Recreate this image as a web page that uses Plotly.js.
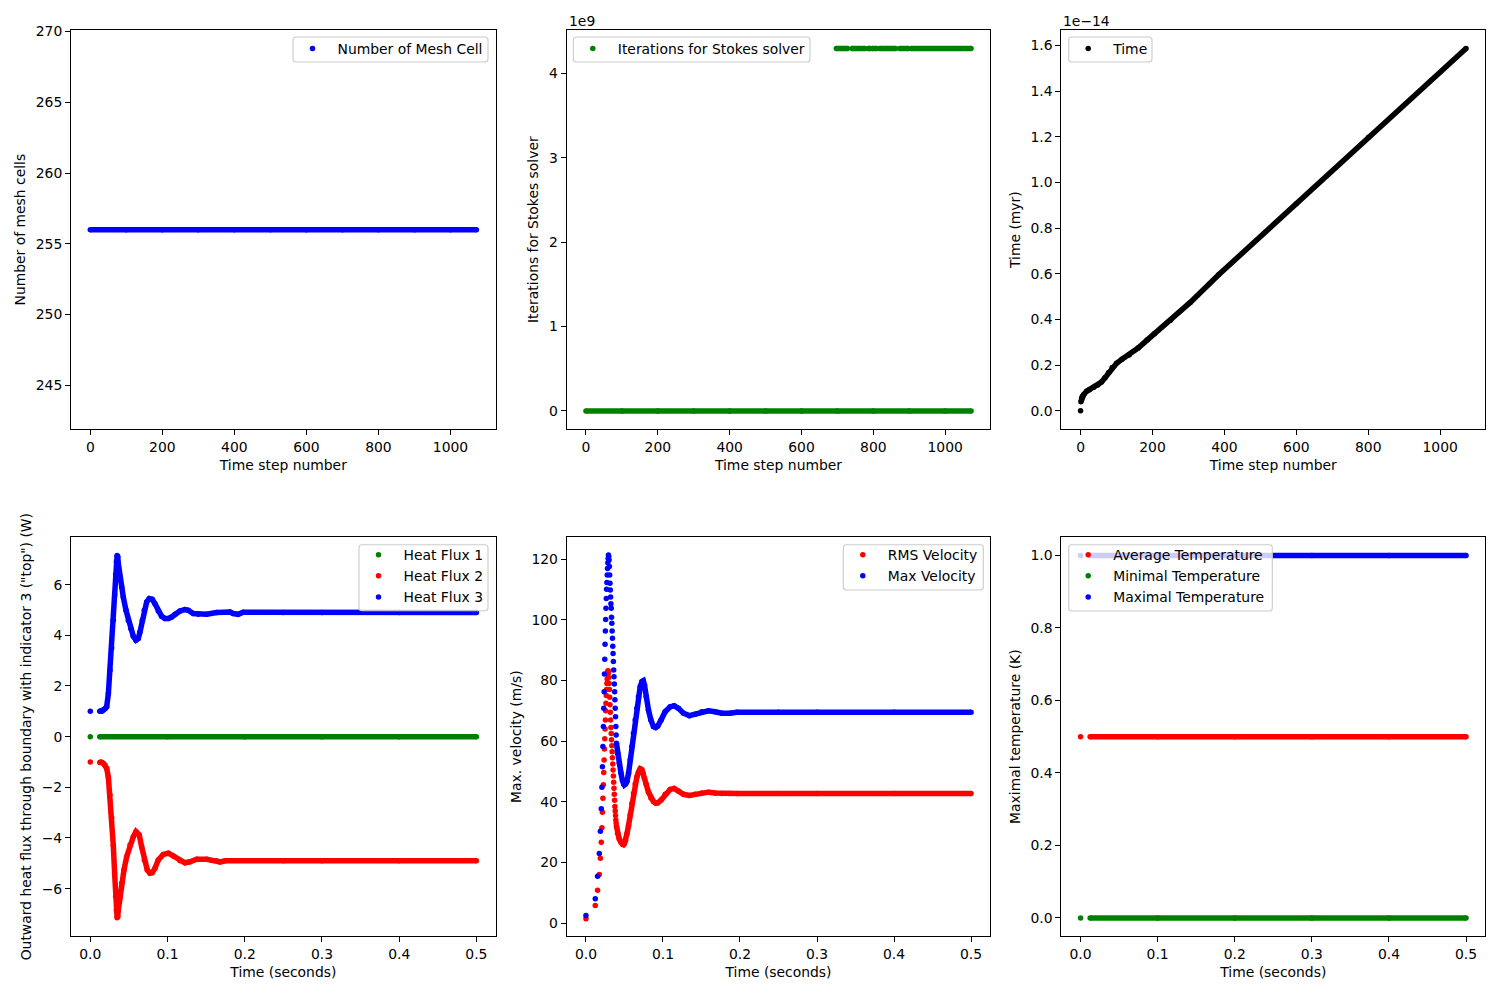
<!DOCTYPE html>
<html>
<head>
<meta charset="utf-8">
<script src="https://cdn.plot.ly/plotly-3.0.1.min.js"></script>
<style>html,body{margin:0;padding:0;background:#fff;}#chart{width:1500px;height:1000px;}</style>
</head>
<body>
<div id="chart"></div>
<script>
// ---------------- DATA ----------------
// Panel 1: number of mesh cells per time step
const meshSteps = [0, 100, 200, 300, 400, 500, 600, 700, 800, 900, 1000, 1072];
const meshCells = [256, 256, 256, 256, 256, 256, 256, 256, 256, 256, 256, 256];

// Panel 2: iterations for Stokes solver
const stokesSteps = [0, 100, 200, 300, 400, 500, 600, 700, 800, 900, 1000, 1072];
const stokesIter  = [0, 0, 0, 0, 0, 0, 0, 0, 0, 0, 0, 0];
// steps where the solver reported 4294967295 iterations (null = gap between runs)
const stokesFailSteps = [697, 712, 714, 716, 728, 730, 741, 750, 752, 755, 776, 778, 786, 792, 794, 797, 809, 812, 818, 830, 832, 835, 848, 850, 852, 862, 868, 874, 897, 901, 906, 1072];
const stokesFailIter  = [4294967295, 4294967295, null, 4294967295, 4294967295, null, 4294967295, 4294967295, null, 4294967295, 4294967295, null, 4294967295, 4294967295, null, 4294967295, 4294967295, null, 4294967295, 4294967295, null, 4294967295, 4294967295, null, 4294967295, 4294967295, null, 4294967295, 4294967295, null, 4294967295, 4294967295];

// Panel 3: model time (myr) per time step
const timeStepsFirst = [0];
const timeMyrFirst   = [0];
const timeSteps = [1, 3, 5, 9, 17, 25, 37, 48, 58, 68, 78, 88, 100, 115, 135, 160, 185, 205, 250, 305, 384, 600, 801, 1072];
const timeMyr   = [0.040e-14, 0.055e-14, 0.064e-14, 0.072e-14, 0.086e-14, 0.093e-14, 0.103e-14, 0.113e-14, 0.126e-14, 0.145e-14, 0.168e-14, 0.190e-14, 0.208e-14, 0.226e-14, 0.245e-14, 0.275e-14, 0.310e-14, 0.338e-14, 0.397e-14, 0.475e-14, 0.596e-14, 0.907e-14, 1.198e-14, 1.587e-14];

// Panel 4: heat flux through boundary (W)
const fluxTimeFirst = [0];
const flux1First = [0];
const flux2First = [-1];
const flux3First = [1];
const flux1Time = [0.0122, 0.1, 0.2, 0.3, 0.4, 0.5];
const flux1 = [0, 0, 0, 0, 0, 0];
const flux2Time = [0.0122, 0.0135, 0.015, 0.0168, 0.019, 0.0212, 0.0234, 0.0255, 0.0277, 0.0298, 0.0315, 0.0328, 0.0338, 0.0347, 0.0355, 0.0363, 0.0384, 0.0406, 0.0436, 0.0471, 0.0514, 0.0557, 0.0591, 0.0634, 0.0665, 0.0699, 0.0738, 0.0773, 0.0802, 0.0837, 0.088, 0.0945, 0.101, 0.1074, 0.1161, 0.1226, 0.129, 0.1377, 0.1506, 0.1636, 0.168, 0.175, 0.25, 0.3, 0.4, 0.5];
const flux2 = [-1.02, -1.0, -1.02, -1.05, -1.12, -1.25, -1.6, -2.3, -3.2, -4.3, -5.4, -6.3, -6.85, -7.15, -7.1, -6.84, -6.32, -5.79, -5.26, -4.74, -4.28, -3.95, -3.75, -3.88, -4.35, -4.87, -5.26, -5.39, -5.37, -5.2, -4.87, -4.65, -4.6, -4.71, -4.9, -4.98, -4.94, -4.84, -4.84, -4.9, -4.95, -4.9, -4.9, -4.9, -4.9, -4.9];
const flux3Time = [0.0122, 0.0135, 0.015, 0.0168, 0.019, 0.0212, 0.0234, 0.0255, 0.0277, 0.0298, 0.0315, 0.0328, 0.0338, 0.0347, 0.0355, 0.0363, 0.0384, 0.0406, 0.0427, 0.0462, 0.0492, 0.0523, 0.0557, 0.0591, 0.0621, 0.0643, 0.0673, 0.0699, 0.073, 0.0764, 0.0802, 0.0837, 0.088, 0.0924, 0.0967, 0.101, 0.1053, 0.1096, 0.1161, 0.1226, 0.1268, 0.1333, 0.1398, 0.1506, 0.1636, 0.1808, 0.1851, 0.1915, 0.198, 0.25, 0.3, 0.4, 0.5];
const flux3 = [1.0, 1.0, 1.0, 1.05, 1.1, 1.18, 1.7, 2.62, 3.5, 4.6, 5.6, 6.4, 6.9, 7.15, 7.1, 6.83, 6.3, 5.91, 5.51, 4.99, 4.59, 4.27, 3.96, 3.81, 3.87, 4.13, 4.59, 4.99, 5.32, 5.45, 5.42, 5.25, 4.96, 4.75, 4.66, 4.66, 4.72, 4.83, 4.96, 5.02, 4.99, 4.86, 4.83, 4.83, 4.9, 4.92, 4.86, 4.83, 4.91, 4.9, 4.9, 4.9, 4.9];

// Panel 5: velocities (m/s)
const velTimeEarly = [0, 0.0121, 0.0151, 0.0173, 0.0187, 0.0199, 0.0207, 0.0214, 0.022, 0.0226, 0.0231, 0.0236, 0.024, 0.0244, 0.0248, 0.0252, 0.0256, 0.026, 0.0264, 0.0268, 0.0272, 0.0276, 0.028, 0.0284, 0.0288, 0.0292, 0.0296, 0.03, 0.0304, 0.0308, 0.0312, 0.0316, 0.032, 0.0324, 0.0328, 0.0332, 0.0336, 0.034, 0.0344, 0.0348, 0.0352, 0.0356, 0.036, 0.0364, 0.0368, 0.0372, 0.0376, 0.038, 0.0384, 0.0388, 0.0392];
const rmsEarly = [1.5, 5.9, 10.9, 16.1, 21.4, 26.7, 31.5, 36.6, 41.2, 45.6, 49.7, 53.8, 57.4, 60.8, 64.0, 67.0, 70.0, 72.5, 75.0, 77.0, 79.0, 80.5, 82.0, 83.0, 83.2, 82.5, 81.0, 79.0, 77.0, 74.5, 72.0, 69.5, 67.0, 64.5, 62.5, 60.5, 58.5, 56.5, 54.5, 52.5, 50.5, 48.5, 46.5, 44.5, 42.5, 40.5, 38.5, 37.0, 35.5, 34.0, 33.0];
const maxEarly = [2.6, 8.1, 15.5, 23.0, 30.3, 37.7, 44.8, 51.6, 58.2, 64.8, 70.8, 76.3, 82.1, 87.0, 91.9, 96.3, 100.1, 103.8, 107.0, 110.0, 112.3, 114.7, 116.9, 118.8, 120.2, 121.3, 120.8, 119.7, 117.5, 114.7, 112.0, 109.8, 107.5, 105.3, 103.8, 100.8, 98.8, 96.3, 93.9, 91.3, 88.9, 86.2, 83.4, 81.2, 78.8, 76.3, 73.6, 70.8, 68.0, 64.8, 62.0];
const velTimeLate = [0.0396, 0.041, 0.0432, 0.0454, 0.0475, 0.049, 0.05, 0.0515, 0.0532, 0.0553, 0.0574, 0.0596, 0.0617, 0.0639, 0.0661, 0.0682, 0.0704, 0.0726, 0.0745, 0.076, 0.0782, 0.0812, 0.0843, 0.0877, 0.0905, 0.0933, 0.0976, 0.1028, 0.1093, 0.1145, 0.1201, 0.1266, 0.1343, 0.1417, 0.1504, 0.159, 0.1676, 0.1763, 0.1871, 0.1958, 0.25, 0.3, 0.4, 0.5];
const rmsLate = [32.0, 29.6, 27.8, 26.7, 26.0, 26.0, 26.3, 27.3, 29.5, 32.2, 35.8, 39.4, 42.8, 45.9, 48.2, 49.8, 50.9, 50.6, 49.3, 47.8, 45.8, 43.2, 41.3, 40.1, 39.6, 39.7, 40.6, 42.5, 44.1, 44.4, 43.6, 42.5, 42.1, 42.5, 42.9, 43.2, 42.9, 42.8, 42.8, 42.8, 42.8, 42.8, 42.8, 42.8];
const maxLate = [59.3, 56.0, 52.8, 49.6, 46.9, 45.8, 45.6, 45.9, 46.7, 49.4, 53.8, 58.2, 62.6, 67.0, 70.8, 74.6, 77.9, 79.6, 79.9, 78.5, 74.6, 70.2, 67.0, 64.8, 64.5, 65.0, 67.0, 69.7, 71.3, 71.7, 70.8, 69.2, 68.4, 68.9, 69.7, 70.0, 69.7, 69.2, 69.2, 69.5, 69.5, 69.5, 69.5, 69.5];

// Panel 6: temperatures (K)
const tempTimeFirst = [0];
const tempAvgFirst = [0.5];
const tempMinFirst = [0];
const tempMaxFirst = [1];
const tempTime = [0.0124, 0.1, 0.2, 0.3, 0.4, 0.5];
const tempAvg = [0.5, 0.5, 0.5, 0.5, 0.5, 0.5];
const tempMin = [0, 0, 0, 0, 0, 0];
const tempMax = [1, 1, 1, 1, 1, 1];

// ---------------- STYLE ----------------
const FONT = 'DejaVu Sans, sans-serif';
const FS = 13.9;
const MS = 5.5;
const BLUE = '#0000ff', RED = '#ff0000', GREEN = '#008000', BLACK = '#000000';

function dots(x, y, color, name, xa, ya, lg) {
  return {type: 'scatter', mode: 'markers', x: x, y: y, name: name, xaxis: xa, yaxis: ya,
    legend: lg, showlegend: true, legendgroup: name + xa,
    marker: {color: color, size: MS, line: {width: 0}}, hoverinfo: 'skip'};
}
function band(x, y, color, name, xa, ya, lg) {
  return {type: 'scatter', mode: 'lines', x: x, y: y, name: name, xaxis: xa, yaxis: ya,
    legend: lg, showlegend: false, legendgroup: name + xa, connectgaps: false,
    line: {color: color, width: MS}, hoverinfo: 'skip'};
}

const traces = [
  band(meshSteps, meshCells, BLUE, 'Number of Mesh Cell', 'x', 'y', 'legend'),
  dots(meshSteps, meshCells, BLUE, 'Number of Mesh Cell', 'x', 'y', 'legend'),

  band(stokesSteps, stokesIter, GREEN, 'Iterations for Stokes solver', 'x2', 'y2', 'legend2'),
  band(stokesFailSteps, stokesFailIter, GREEN, 'Iterations for Stokes solver', 'x2', 'y2', 'legend2'),
  dots(stokesSteps.concat(stokesFailSteps), stokesIter.concat(stokesFailIter), GREEN, 'Iterations for Stokes solver', 'x2', 'y2', 'legend2'),

  band(timeSteps, timeMyr, BLACK, 'Time', 'x3', 'y3', 'legend3'),
  dots(timeStepsFirst.concat(timeSteps), timeMyrFirst.concat(timeMyr), BLACK, 'Time', 'x3', 'y3', 'legend3'),

  band(flux1Time, flux1, GREEN, 'Heat Flux 1', 'x4', 'y4', 'legend4'),
  dots(fluxTimeFirst.concat(flux1Time), flux1First.concat(flux1), GREEN, 'Heat Flux 1', 'x4', 'y4', 'legend4'),
  band(flux2Time, flux2, RED, 'Heat Flux 2', 'x4', 'y4', 'legend4'),
  dots(fluxTimeFirst.concat(flux2Time), flux2First.concat(flux2), RED, 'Heat Flux 2', 'x4', 'y4', 'legend4'),
  band(flux3Time, flux3, BLUE, 'Heat Flux 3', 'x4', 'y4', 'legend4'),
  dots(fluxTimeFirst.concat(flux3Time), flux3First.concat(flux3), BLUE, 'Heat Flux 3', 'x4', 'y4', 'legend4'),

  band(velTimeLate, rmsLate, RED, 'RMS Velocity', 'x5', 'y5', 'legend5'),
  dots(velTimeEarly.concat(velTimeLate), rmsEarly.concat(rmsLate), RED, 'RMS Velocity', 'x5', 'y5', 'legend5'),
  band(velTimeLate, maxLate, BLUE, 'Max Velocity', 'x5', 'y5', 'legend5'),
  dots(velTimeEarly.concat(velTimeLate), maxEarly.concat(maxLate), BLUE, 'Max Velocity', 'x5', 'y5', 'legend5'),

  band(tempTime, tempAvg, RED, 'Average Temperature', 'x6', 'y6', 'legend6'),
  dots(tempTimeFirst.concat(tempTime), tempAvgFirst.concat(tempAvg), RED, 'Average Temperature', 'x6', 'y6', 'legend6'),
  band(tempTime, tempMin, GREEN, 'Minimal Temperature', 'x6', 'y6', 'legend6'),
  dots(tempTimeFirst.concat(tempTime), tempMinFirst.concat(tempMin), GREEN, 'Minimal Temperature', 'x6', 'y6', 'legend6'),
  band(tempTime, tempMax, BLUE, 'Maximal Temperature', 'x6', 'y6', 'legend6'),
  dots(tempTimeFirst.concat(tempTime), tempMaxFirst.concat(tempMax), BLUE, 'Maximal Temperature', 'x6', 'y6', 'legend6')
];

function axis(extra, letter) {
  const base = {showline: true, mirror: true, linecolor: 'black', linewidth: 1,
    ticks: 'outside', ticklen: 5, tickwidth: 1, tickcolor: 'black',
    showgrid: false, zeroline: false, automargin: false,
    tickfont: {family: FONT, size: FS, color: 'black'}};
  const out = Object.assign(base, extra);
  out.title = {text: extra.titleText, font: {family: FONT, size: FS, color: 'black'},
    standoff: letter === 'x' ? 6 : 6.5};
  delete out.titleText;
  return out;
}

const W = 1500, H = 1000;
const colX = [[71, 495.7], [566.7, 990.3], [1061.3, 1485.3]];
const rowY = [[30.3, 429], [537.3, 936]];
const dx = c => [colX[c][0] / W, colX[c][1] / W];
const dy = r => [1 - rowY[r][1] / H, 1 - rowY[r][0] / H];

const stepTicks = {range: [-53.6, 1125.6], tick0: 0, dtick: 200, titleText: 'Time step number'};
const secTicks = {range: [-0.025, 0.525], tick0: 0, dtick: 0.1, tickformat: '.1f', titleText: 'Time (seconds)'};

// legend frames (pixel boxes: left, top, right, bottom)
const legendBoxes = [[293, 37, 488, 62], [573.3, 37, 810, 62], [1068.7, 37, 1152, 62],
                     [359, 544.7, 488, 610.7], [843.3, 544.7, 983.3, 590], [1068.7, 544.7, 1272.3, 611]];
function legendFor(box, dyPx) {
  return {x: (box[0] - 5.5) / W, y: 1 - (box[1] - 4 - dyPx) / H, xanchor: 'left', yanchor: 'top', xref: 'paper', yref: 'paper',
    bgcolor: 'rgba(0,0,0,0)', borderwidth: 0, itemwidth: 40,
    font: {family: FONT, size: FS, color: 'black'}, tracegroupgap: 0, traceorder: 'normal'};
}
function roundBox(b) {
  const r = 3;
  const X = v => (v / W).toFixed(5), Y = v => (1 - v / H).toFixed(5);
  const [x0, y0, x1, y1] = b;
  const p = 'M' + X(x0 + r) + ',' + Y(y0) + ' L' + X(x1 - r) + ',' + Y(y0) +
    ' Q' + X(x1) + ',' + Y(y0) + ' ' + X(x1) + ',' + Y(y0 + r) +
    ' L' + X(x1) + ',' + Y(y1 - r) + ' Q' + X(x1) + ',' + Y(y1) + ' ' + X(x1 - r) + ',' + Y(y1) +
    ' L' + X(x0 + r) + ',' + Y(y1) + ' Q' + X(x0) + ',' + Y(y1) + ' ' + X(x0) + ',' + Y(y1 - r) +
    ' L' + X(x0) + ',' + Y(y0 + r) + ' Q' + X(x0) + ',' + Y(y0) + ' ' + X(x0 + r) + ',' + Y(y0) + ' Z';
  return {type: 'path', path: p, xref: 'paper', yref: 'paper', layer: 'above',
    fillcolor: 'rgba(255,255,255,0.8)', line: {color: '#cccccc', width: 1.1}};
}

const layout = {
  width: W, height: H,
  margin: {l: 0, r: 0, t: 0, b: 0},
  paper_bgcolor: 'white', plot_bgcolor: 'white',
  font: {family: FONT, size: FS, color: 'black'},
  xaxis:  axis(Object.assign({domain: dx(0), anchor: 'y'}, stepTicks), 'x'),
  yaxis:  axis({domain: dy(0), anchor: 'x', range: [241.92, 270.08], tick0: 245, dtick: 5, titleText: 'Number of mesh cells'}, 'y'),
  xaxis2: axis(Object.assign({domain: dx(1), anchor: 'y2'}, stepTicks), 'x'),
  yaxis2: axis({domain: dy(0), anchor: 'x2', range: [-0.2147e9, 4.5097e9], tickmode: 'array',
    tickvals: [0, 1e9, 2e9, 3e9, 4e9], ticktext: ['0', '1', '2', '3', '4'], titleText: 'Iterations for Stokes solver'}, 'y'),
  xaxis3: axis(Object.assign({domain: dx(2), anchor: 'y3'}, stepTicks), 'x'),
  yaxis3: axis({domain: dy(0), anchor: 'x3', range: [-0.0794e-14, 1.6664e-14], tickmode: 'array',
    tickvals: [0, 0.2e-14, 0.4e-14, 0.6e-14, 0.8e-14, 1.0e-14, 1.2e-14, 1.4e-14, 1.6e-14],
    ticktext: ['0.0', '0.2', '0.4', '0.6', '0.8', '1.0', '1.2', '1.4', '1.6'], titleText: 'Time (myr)'}, 'y'),
  xaxis4: axis(Object.assign({domain: dx(0), anchor: 'y4'}, secTicks), 'x'),
  yaxis4: axis({domain: dy(1), anchor: 'x4', range: [-7.87, 7.87], tick0: 0, dtick: 2,
    titleText: 'Outward heat flux through boundary with indicator 3 ("top") (W)'}, 'y'),
  xaxis5: axis(Object.assign({domain: dx(1), anchor: 'y5'}, secTicks), 'x'),
  yaxis5: axis({domain: dy(1), anchor: 'x5', range: [-4.18, 127.15], tick0: 0, dtick: 20, titleText: 'Max. velocity (m/s)'}, 'y'),
  xaxis6: axis(Object.assign({domain: dx(2), anchor: 'y6'}, secTicks), 'x'),
  yaxis6: axis({domain: dy(1), anchor: 'x6', range: [-0.05, 1.05], tick0: 0, dtick: 0.2, tickformat: '.1f', titleText: 'Maximal temperature (K)'}, 'y'),
  legend:  legendFor(legendBoxes[0], 0),
  legend2: legendFor(legendBoxes[1], 0),
  legend3: legendFor(legendBoxes[2], 0),
  legend4: legendFor(legendBoxes[3], 1.5),
  legend5: legendFor(legendBoxes[4], 1.5),
  legend6: legendFor(legendBoxes[5], 1.5),
  shapes: legendBoxes.map(roundBox),
  annotations: [
    {text: '1e9', x: 567 / W, y: 1 - 21 / H, xref: 'paper', yref: 'paper', xanchor: 'left', yanchor: 'middle', showarrow: false, font: {family: FONT, size: FS, color: 'black'}},
    {text: '1e\u221214', x: 1061 / W, y: 1 - 21 / H, xref: 'paper', yref: 'paper', xanchor: 'left', yanchor: 'middle', showarrow: false, font: {family: FONT, size: FS, color: 'black'}}
  ],
  showlegend: true
};

Plotly.newPlot('chart', traces, layout, {displayModeBar: false, staticPlot: true});
</script>
</body>
</html>
